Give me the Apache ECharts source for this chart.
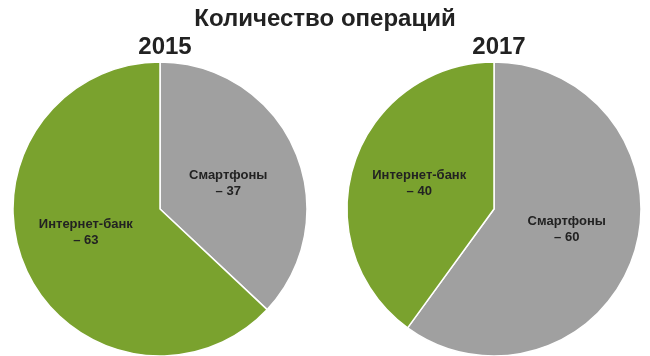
<!DOCTYPE html>
<html><head><meta charset="utf-8">
<script src="https://cdn.jsdelivr.net/npm/echarts@6/dist/echarts.min.js"></script>
<style>html,body{margin:0;padding:0;background:#fff}#c{width:650px;height:356px}</style>
</head><body><div id="c"></div>
<script>
const title = 'Количество операций';
const years = ['2015', '2017'];
const categories = ['Смартфоны', 'Интернет-банк'];
const values2015 = [37, 63];
const values2017 = [60, 40];
const colors = ['#a0a0a0', '#7aa22e'];

const chart = echarts.init(document.getElementById('c'));
const font = '"Liberation Sans", Arial, sans-serif';
const centers = [[160, 209], [494, 209]];
const labelOffsets = [[[-2, 5], [-4, -7]], [[0, -3], [-2, -2]]];
const allValues = [values2015, values2017];
chart.setOption({
  animation: false,
  title: [
    {text: title, left: 'center', top: 2, textStyle: {fontFamily: font, fontSize: 24, fontWeight: 'bold', color: '#222'}},
    {text: years[0], left: 160, top: 30, textAlign: 'center', textStyle: {fontFamily: font, fontSize: 24, fontWeight: 'bold', color: '#222'}},
    {text: years[1], left: 494, top: 30, textAlign: 'center', textStyle: {fontFamily: font, fontSize: 24, fontWeight: 'bold', color: '#222'}}
  ],
  series: allValues.map((vals, i) => ({
    type: 'pie',
    center: centers[i],
    radius: [0, 147],
    startAngle: 90,
    clockwise: true,
    label: {
      show: true, position: 'inside',
      formatter: p => p.name + '\n– ' + p.value,
      fontFamily: font, fontSize: 13, fontWeight: 'bold', color: '#222', lineHeight: 16
    },
    labelLine: {show: false},
    itemStyle: {borderColor: '#fff', borderWidth: 1.5},
    emphasis: {disabled: true},
    data: categories.map((c, j) => ({name: c, value: vals[j], itemStyle: {color: colors[j]}, label: {offset: labelOffsets[i][j]}}))
  }))
});
</script></body></html>
